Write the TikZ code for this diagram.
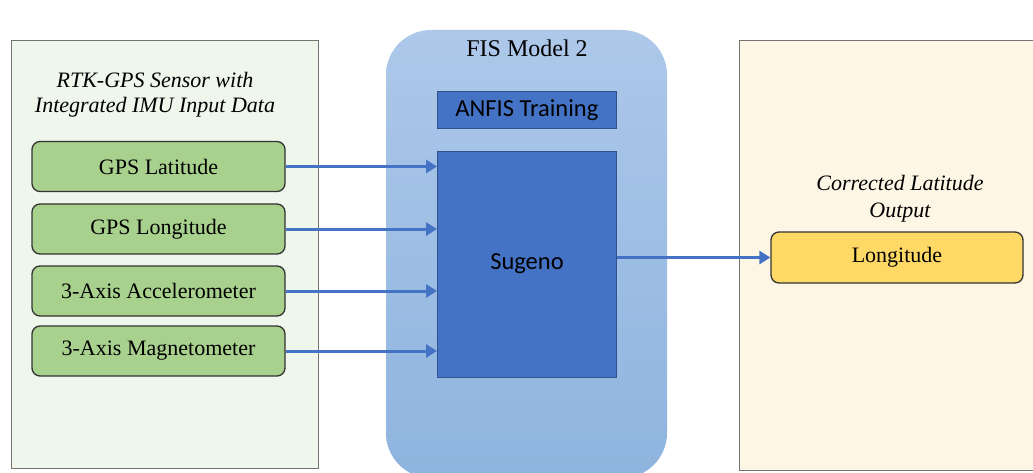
\documentclass[tikz,border=0pt]{standalone}
\usepackage{fontspec}
\setmainfont{Liberation Serif}
\newfontfamily\calibrifont{Carlito}
\usetikzlibrary{arrows.meta}
\definecolor{panelgreen}{HTML}{EFF6EC}
\definecolor{boxgreen}{HTML}{A9D18E}
\definecolor{panelcream}{HTML}{FDF6E5}
\definecolor{boxyellow}{HTML}{FFD966}
\definecolor{blueA}{HTML}{ADC8E9}
\definecolor{blueB}{HTML}{8EB4DF}
\definecolor{bluedark}{HTML}{4472C4}
\definecolor{blueedge}{HTML}{2F528F}
\tikzset{
  panel/.style={draw=black!55, line width=1.2pt},
  inbox/.style={draw=black!80, line width=1.3pt, rounded corners=8pt, fill=boxgreen,
    minimum width=253pt, minimum height=50pt, font=\fontsize{22}{24}\selectfont, inner sep=0pt},
  bluebox/.style={draw=blueedge, line width=0.8pt, fill=bluedark, inner sep=0pt},
  flow/.style={draw=bluedark, line width=3pt, -{Triangle[length=11pt,width=13pt]}},
  title/.style={font=\itshape\fontsize{22}{25}\selectfont, align=center}
}
\begin{document}
\begin{tikzpicture}[x=1pt,y=-1pt]
\useasboundingbox (0,0) rectangle (1033,473);
\clip (0,0) rectangle (1033,473);
\fill[white] (0,0) rectangle (1033,473);
% left panel
\node[panel, fill=panelgreen, minimum width=307pt, minimum height=428pt, inner sep=0pt, anchor=north west] (lp) at (11,40) {};
\node[title] (lt) at (155,95) {RTK-GPS Sensor with\\Integrated IMU Input Data};
% middle panel
\shade[top color=blueA, bottom color=blueB, rounded corners=45pt] (386,30) rectangle (667,478);
\node[font=\fontsize{24}{26}\selectfont] (mt) at (527,48) {FIS Model 2};
\node[bluebox, minimum width=179pt, minimum height=37pt, font=\calibrifont\fontsize{24.5}{26}\selectfont, anchor=north west] (anfis) at (437,91) {ANFIS Training};
\node[bluebox, minimum width=179pt, minimum height=226pt, anchor=north west] (sug) at (437,151) {};
\node[font=\calibrifont\fontsize{24.5}{26}\selectfont] (sugt) at (527,264) {Sugeno};
% right panel
\node[panel, fill=panelcream, minimum width=320pt, minimum height=430pt, inner sep=0pt, anchor=north west] (rp) at (739,40) {};
\node[title, font=\itshape\fontsize{22}{27}\selectfont] (rt) at (900,199) {Corrected Latitude\\Output};
% input boxes
\node[inbox] (lat) at (158.5,166.5) {GPS Latitude};
\node[inbox] (lon) at (158.5,229) {GPS Longitude};
\node[inbox] (acc) at (158.5,291) {3-Axis Accelerometer};
\node[inbox] (mag) at (158.5,351) {3-Axis Magnetometer};
% output box
\node[inbox, fill=boxyellow, minimum width=252pt, minimum height=51pt] (out) at (897,257.5) {Longitude};
% connectors
\draw[flow] (lat.east) -- (lat.east -| sug.west);
\draw[flow] (lon.east) -- (lon.east -| sug.west);
\draw[flow] (acc.east) -- (acc.east -| sug.west);
\draw[flow] (mag.east) -- (mag.east -| sug.west);
\draw[flow] (sug.east |- out.west) -- (out.west);
\end{tikzpicture}
\end{document}
